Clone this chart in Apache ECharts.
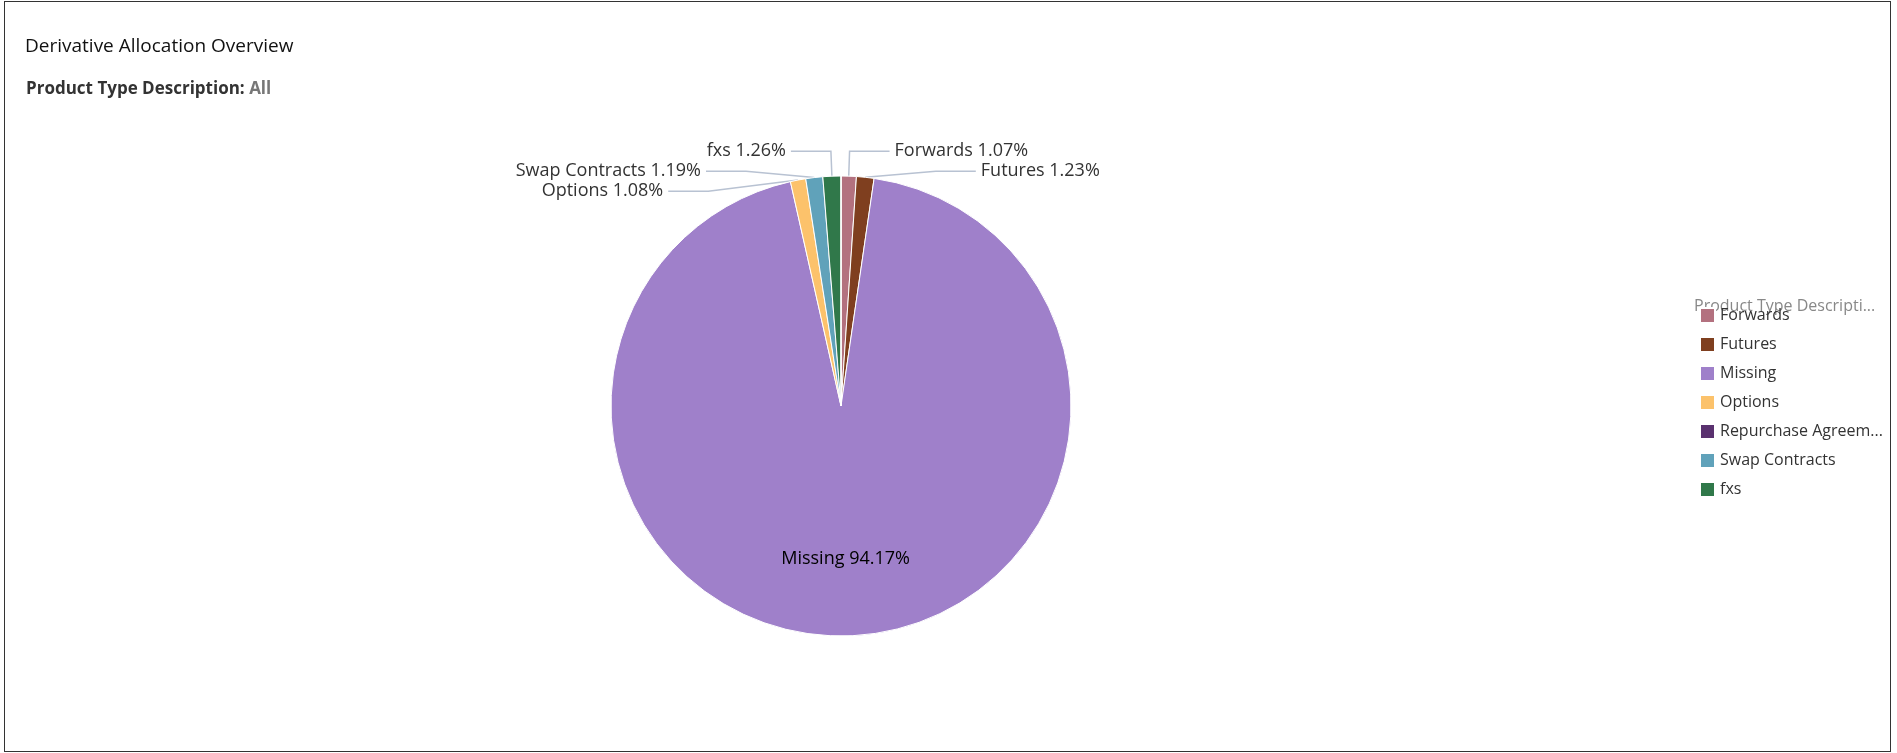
<!DOCTYPE html>
<html><head><meta charset="utf-8">
<script src="https://cdn.jsdelivr.net/npm/echarts@6/dist/echarts.min.js"></script>
<style>html,body{margin:0;padding:0;background:#fff}#c{position:absolute;left:4px;top:1px;width:1887px;height:751px;border:1px solid #333;box-sizing:border-box}</style>
</head><body><div id="c"></div>
<script>
const categories = ['Forwards','Futures','Missing','Options','Repurchase Agreements','Swap Contracts','fxs'];
const values = [1.07,1.23,94.17,1.08,0,1.19,1.26];
const colors = ['#b3717f','#7f3f1f','#9f80ca','#fcc26b','#5a316f','#60a2ba','#30784a'];
const chart = echarts.init(document.getElementById('c'));
const data = categories.map((n,i)=>({name:n,value:values[i],itemStyle:{color:colors[i]},
  label: n==='Missing'?{position:'inside',color:'#000',fontSize:18}:(values[i]===0?{show:false}:{}),
  labelLine: values[i]===0?{show:false}:{}
}));
// draw order: clockwise Forwards, Futures, Missing, Options, Swap, fxs
const ordered = [0,1,2,3,5,6,4].map(i=>data[i]);
chart.setOption({
  animation:false,
  title:[{text:'Derivative Allocation Overview',left:15,top:30,textStyle:{fontSize:19,fontWeight:'normal',color:'#111',fontFamily:'Open Sans'}},
         {text:'{a|Product Type Description: }{b|All}',left:16,top:74,textStyle:{rich:{a:{fontSize:17,color:'#333',fontFamily:'Open Sans'},b:{fontSize:17,color:'#777',fontFamily:'Open Sans'}}}}],
  legend:{orient:'vertical',left:1689,top:300,itemWidth:15,itemHeight:15,itemGap:12,icon:'rect',
    data:categories,
    formatter:n=>n.length>18?n.slice(0,17)+'...':n,
    textStyle:{fontSize:16,color:'#333',fontFamily:'Open Sans'}},
  graphic:[{type:'text',left:1689,top:296,style:{text:'Product Type Descripti...',fontSize:16,fill:'#888',fontFamily:'Open Sans'}}],
  series:[{type:'pie',center:[836,404],radius:[0,230],startAngle:90,clockwise:true,
    avoidLabelOverlap:true,
    itemStyle:{borderColor:'#fff',borderWidth:1},
    label:{formatter:'{b} {d}%',fontSize:18,color:'#333',fontFamily:'Open Sans'},
    labelLine:{length:25,length2:40,lineStyle:{color:'#b8c2d2',width:1.5}},
    labelLayout:function(p){ if(p.dataIndex===2) return {dy:35}; },
    data:ordered}]
});
</script></body></html>
